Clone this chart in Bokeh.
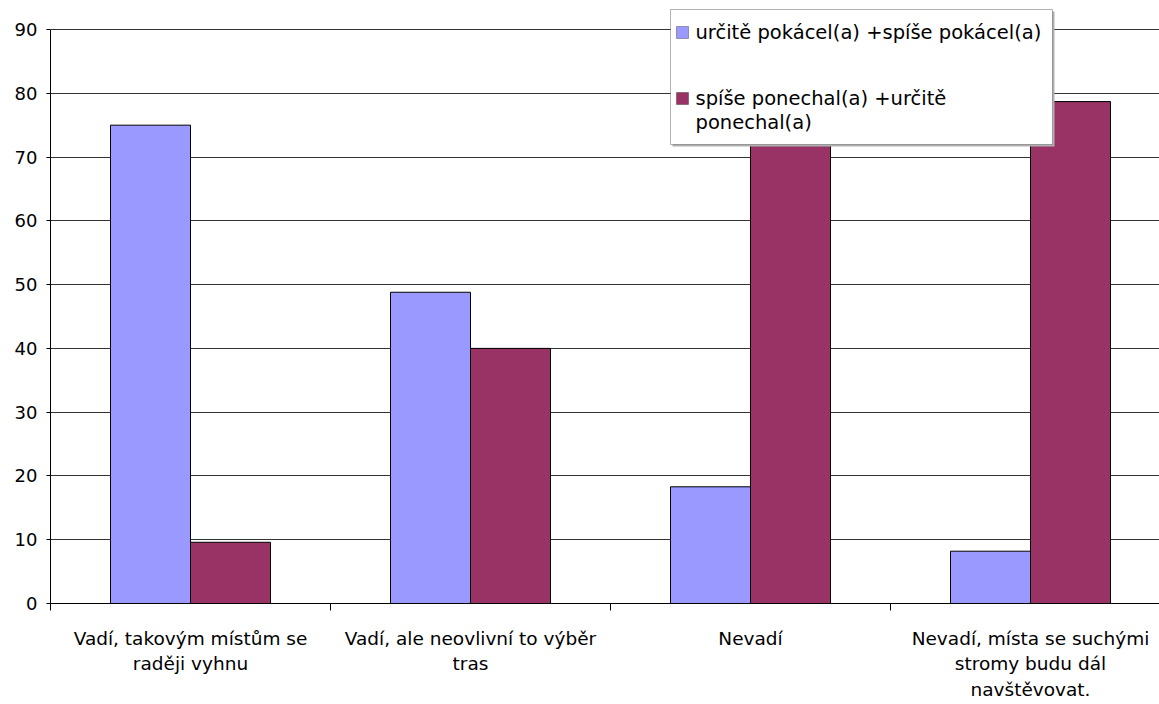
from bokeh.plotting import figure
from bokeh.models import (ColumnDataSource, FixedTicker, BoxAnnotation, Label,
                          Range1d)
from bokeh.transform import dodge
from bokeh.embed import file_html
from bokeh.resources import INLINE

# ---- data ----
categories = [
    "Vadí, takovým místům se\nraději vyhnu",
    "Vadí, ale neovlivní to výběr\ntras",
    "Nevadí",
    "Nevadí, místa se suchými\nstromy budu dál\nnavštěvovat.",
]
series_names = [
    "určitě pokácel(a) +spíše pokácel(a)",
    "spíše ponechal(a) +určitě\nponechal(a)",
]
cut_down = [75.0, 48.8, 18.3, 8.2]
keep = [9.6, 40.0, 78.0, 78.7]
y_ticks = [0, 10, 20, 30, 40, 50, 60, 70, 80, 90]

colors = ["#9999FF", "#993366"]
FONT = "DejaVu Sans"

# ---- geometry (page pixels of the reference) ----
W, H = 1159, 704
frame_left_px, frame_top_px, frame_bottom_px = 50, 0, 603
y90_px = 29
px_per_cat = 280.0
px_per_unit = (frame_bottom_px - y90_px) / 90.0
y_end = (frame_bottom_px - frame_top_px) / px_per_unit
x_end = (W - frame_left_px) / px_per_cat

def X(px):
    return (px - frame_left_px) / px_per_cat

def Y(py):
    return (frame_bottom_px - py) / px_per_unit

centers = [i + 0.5 for i in range(len(categories))]
src = ColumnDataSource(dict(x=centers, a=cut_down, b=keep))

p = figure(width=W, height=H, output_backend="svg", toolbar_location=None,
           x_range=Range1d(0, x_end), y_range=Range1d(0, y_end),
           min_border_top=0, min_border_right=0, min_border_left=frame_left_px,
           min_border_bottom=H - frame_bottom_px)
p.outline_line_color = None
p.background_fill_color = "white"

bw = 80 / px_per_cat
p.vbar(x=dodge("x", -bw / 2, range=p.x_range), top="a", width=bw, bottom=0,
       source=src, fill_color=colors[0], line_color="black", line_width=1)
p.vbar(x=dodge("x", bw / 2, range=p.x_range), top="b", width=bw, bottom=0,
       source=src, fill_color=colors[1], line_color="black", line_width=1)

# y axis
p.yaxis.ticker = FixedTicker(ticks=y_ticks, minor_ticks=[])
p.yaxis.bounds = (0, 90)
p.yaxis.axis_line_color = "black"
p.yaxis.major_tick_out = 4
p.yaxis.major_tick_in = 0
p.yaxis.minor_tick_line_color = None
p.yaxis.major_label_text_font = FONT
p.yaxis.major_label_text_font_size = "18px"
p.yaxis.major_label_text_color = "black"
p.yaxis.major_label_standoff = 9

# x axis: labels at centers, boundary ticks as minor ticks
p.xaxis.ticker = FixedTicker(ticks=centers,
                             minor_ticks=list(range(len(categories) + 1)))
p.xaxis.major_label_overrides = {c: lab for c, lab in zip(centers, categories)}
p.xaxis.major_tick_out = 0
p.xaxis.major_tick_in = 0
p.xaxis.major_tick_line_color = None
p.xaxis.minor_tick_out = 7
p.xaxis.minor_tick_in = 0
p.xaxis.minor_tick_line_color = "black"
p.xaxis.axis_line_color = "black"
p.xaxis.major_label_text_font = FONT
p.xaxis.major_label_text_font_size = "18.5px"
p.xaxis.major_label_text_color = "black"
p.xaxis.major_label_text_line_height = 1.23
p.xaxis.major_label_standoff = 17

p.xgrid.grid_line_color = None
p.ygrid.ticker = FixedTicker(ticks=y_ticks)
p.ygrid.grid_line_color = "#333333"
p.ygrid.grid_line_width = 1

# ---- legend (drawn manually) ----
p.add_layout(BoxAnnotation(left=X(672), right=X(1054), top=Y(11), bottom=Y(146),
                           fill_color="#b0b0b0", fill_alpha=1, line_color=None,
                           level="annotation"))
p.add_layout(BoxAnnotation(left=X(670), right=X(1052), top=Y(9), bottom=Y(144),
                           fill_color="white", fill_alpha=1, line_color="black",
                           line_width=1, level="annotation"))
for (py, col) in [(32, colors[0]), (98, colors[1])]:
    p.add_layout(BoxAnnotation(left=X(676), right=X(688), top=Y(py - 6),
                               bottom=Y(py + 6), fill_color=col, fill_alpha=1,
                               line_color="black", line_width=1,
                               level="annotation"))
p.add_layout(Label(x=X(695), y=Y(32), text=series_names[0], text_font=FONT,
                   text_font_size="19.5px", text_baseline="middle",
                   text_color="black"))
p.add_layout(Label(x=X(695), y=Y(110), text=series_names[1], text_font=FONT,
                   text_font_size="19.5px", text_baseline="middle",
                   text_line_height=1.07, text_color="black"))

open("out.html", "w").write(file_html(p, INLINE))
